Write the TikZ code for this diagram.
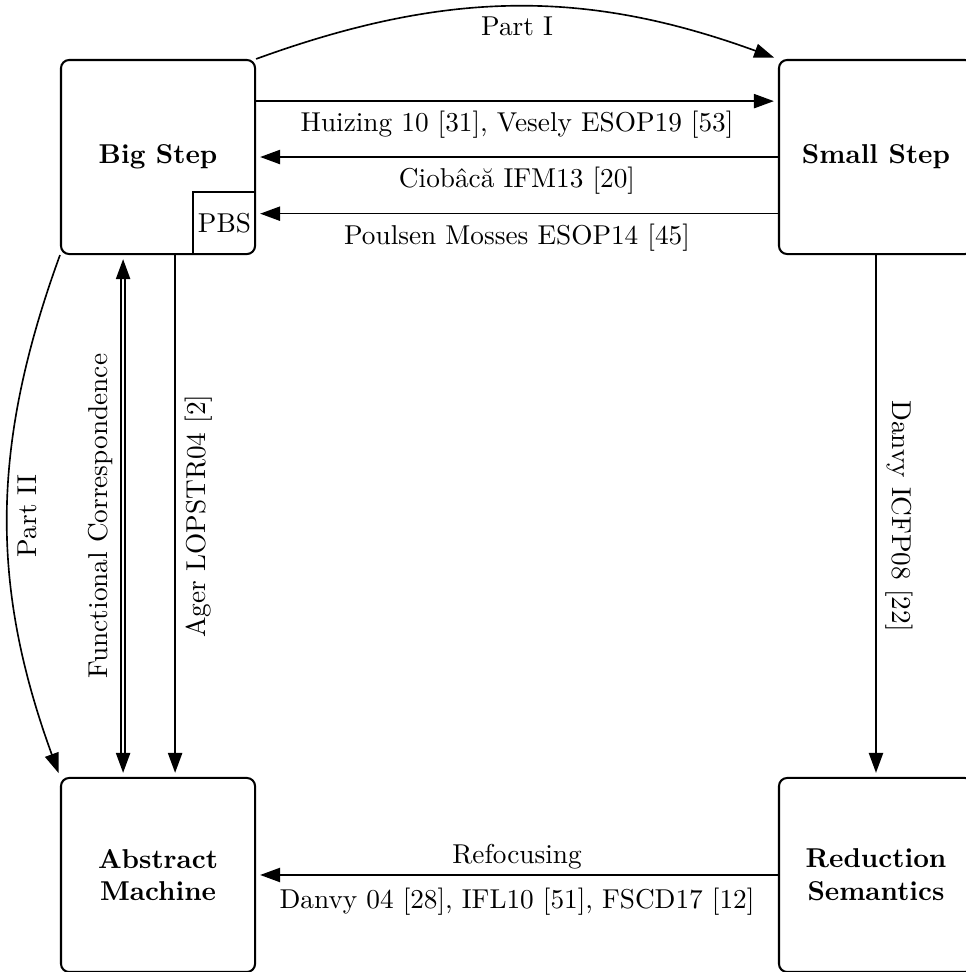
\documentclass[tikz,border=0pt]{standalone}
\usetikzlibrary{arrows.meta}
\begin{document}
\begin{tikzpicture}[
  box/.style={draw, line width=0.75pt, rounded corners=3pt, minimum width=2.5cm, minimum height=2.5cm, align=center, font=\bfseries, inner sep=0pt},
  tip/.tip={Triangle[length=7.3pt,width=5.2pt]},
  arr/.style={-tip, line width=0.6pt, shorten >=1.5pt},
  dbl/.style={tip-tip, double, double distance=0.8pt, line width=0.6pt, shorten >=1.5pt, shorten <=1.5pt}
]
\useasboundingbox (-2.036,-10.50) rectangle (10.40,2.023);
\node[box] (bs) at (0,0) {Big Step};
\node[box] (ss) at (9.25,0) {Small Step};
\node[box] (am) at (0,-9.25) {Abstract\\Machine};
\node[box] (rs) at (9.25,-9.25) {Reduction\\Semantics};
\node[inner sep=0pt, minimum size=0.8cm, anchor=south east] (pbs) at (bs.south east) {PBS};
\draw[line width=0.75pt] (pbs.south west) -- (pbs.north west) -- (pbs.north east);

\draw[arr] (bs.north east) to[bend left=20] node[midway,below] {Part I} (ss.north west);
\draw[arr] ([yshift=0.72cm]bs.east) -- ([yshift=0.72cm]ss.west) node[midway,below] {Huizing 10 [31], Vesely ESOP19 [53]};
\draw[arr] (ss.west) -- (bs.east) node[midway,below] {Ciobâcă IFM13 [20]};
\draw[arr] ([yshift=-0.73cm]ss.west) -- ([yshift=-0.73cm]bs.east) node[midway,below] {Poulsen Mosses ESOP14 [45]};

\draw[arr] (bs.south west) to[bend right=20] node[midway,anchor=north,rotate=90] {Part II} (am.north west);
\draw[dbl] ([xshift=-0.45cm]am.north) -- ([xshift=-0.45cm]bs.south) node[midway,anchor=south,rotate=90] {Functional Correspondence};
\draw[arr] ([xshift=0.22cm]bs.south) -- ([xshift=0.22cm]am.north) node[midway,anchor=north,rotate=90] {Ager LOPSTR04 [2]};
\draw[arr] (ss.south) -- (rs.north) node[midway,anchor=south,rotate=-90] {Danvy ICFP08 [22]};

\draw[arr] (rs.west) -- (am.east) node[midway,above,yshift=-1.5pt] {Refocusing} node[midway,below,yshift=-1pt] {Danvy 04 [28], IFL10 [51], FSCD17 [12]};
\end{tikzpicture}
\end{document}
